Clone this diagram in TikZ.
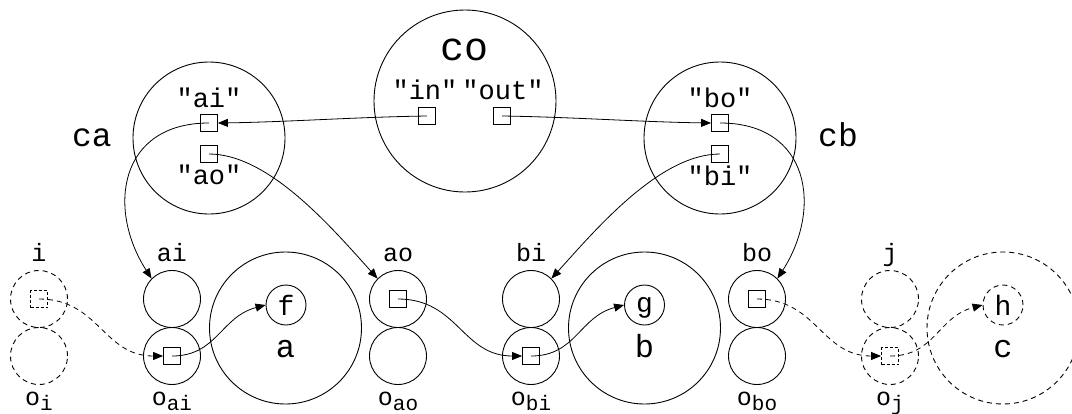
\documentclass[tikz,border=0pt]{standalone}
\usepackage{fontspec}
\setmonofont{Liberation Mono}
\usetikzlibrary{arrows.meta}

\newcommand\sub[1]{\raisebox{-5pt}{\fontsize{21}{21}\selectfont #1}}
\newcommand\fsz[1]{\fontsize{#1}{#1}\selectfont\ttfamily}

\tikzset{
  ring/.style={circle,draw,line width=0.9pt,inner sep=0pt,minimum size=57pt},
  ghost/.style={ring,dash pattern=on 5pt off 4pt},
  port/.style={draw,line width=0.8pt,inner sep=0pt,minimum size=17pt},
  gport/.style={port,dash pattern=on 3pt off 2pt},
  lbl/.style={inner sep=0pt,anchor=base,font=\fsz{25}},
  wire/.style={line width=0.8pt,-{Triangle[length=10pt,width=8pt]}},
  gwire/.style={wire,dash pattern=on 5pt off 4pt}
}

\begin{document}
\begin{tikzpicture}[x=1pt,y=-1pt]
  \useasboundingbox (0,0) rectangle (1072,413);
  \clip (0,0) rectangle (1072,413);

  % grupos de arriba
  \node[ring,minimum size=152pt] (ca) at (209,138) {};
  \node[ring,minimum size=152pt] (cb) at (720,138) {};
  \node[ring,minimum size=182pt] (co) at (465,101) {};
  \node[lbl,font=\fsz{33}] (tca) at (92,146) {ca};
  \node[lbl,font=\fsz{33}] (tcb) at (838,146) {cb};
  \node[lbl,font=\fsz{40}] (tco) at (465,60) {co};
  \node[lbl,font=\fsz{27}] (tcaai) at (209,107) {"ai"};
  \node[lbl,font=\fsz{27}] (tcaao) at (209,184) {"ao"};
  \node[lbl,font=\fsz{27}] (tcbbo) at (720,107) {"bo"};
  \node[lbl,font=\fsz{27}] (tcbbi) at (720,185) {"bi"};
  \node[lbl,font=\fsz{27}] (tcoin) at (425,99) {"in"};
  \node[lbl,font=\fsz{27}] (tcoout) at (503,99) {"out"};
  \node[port] (caai) at (209,123) {};
  \node[port] (caao) at (209,154) {};
  \node[port] (cbbo) at (720,123) {};
  \node[port] (cbbi) at (720,154) {};
  \node[port] (coin) at (427,116) {};
  \node[port] (coout) at (502,116) {};

  % columnas de abajo
  \foreach \n/\x/\st in {i/39/ghost,ai/172/ring,ao/398/ring,bi/531/ring,bo/757/ring,j/890/ghost}{
    \node[\st] (\n) at (\x,299) {};
    \node[\st] (o\n) at (\x,356) {};
    \node[lbl] (t\n) at (\x,261) {\n};
    \node[lbl] (to\n) at (\x,405) {o\sub{\n}};
  }

  % cajas grandes
  \node[ring,minimum size=152pt] (a) at (285.5,328) {};
  \node[ring,minimum size=152pt] (b) at (644.5,328) {};
  \node[ghost,minimum size=152pt] (c) at (1003,328) {};
  \node[ring,minimum size=40pt] (f) at (286,305) {};
  \node[ring,minimum size=40pt] (g) at (644.5,305) {};
  \node[ghost,minimum size=40pt] (h) at (1003,305) {};
  \node[lbl,font=\fsz{32}] (ta) at (285.5,357) {a};
  \node[lbl,font=\fsz{32}] (tb) at (644.5,357) {b};
  \node[lbl,font=\fsz{32}] (tc) at (1003,357) {c};
  \node[lbl,font=\fsz{28}] (tf) at (286,315) {f};
  \node[lbl,font=\fsz{28}] (tg) at (644.5,312) {g};
  \node[lbl,font=\fsz{28}] (th) at (1003,315) {h};

  % puertos
  \node[gport] (pi) at (i) {};
  \node[port] (poai) at (oai) {};
  \node[port] (pao) at (ao) {};
  \node[port] (pobi) at (obi) {};
  \node[port] (pbo) at (bo) {};
  \node[gport] (poj) at (oj) {};

  % conexiones
  \draw[wire] (coin.center) .. controls +(-70,1) and +(70,-1) .. (caai.east);
  \draw[wire] (coout.center) .. controls +(70,1) and +(-70,-1) .. (cbbo.west);
  \draw[wire] (caai.center) .. controls +(-90,0) and +(-45,-70) .. (ai.135);
  \draw[wire] (caao.center) .. controls +(60,0) and +(-45,-50) .. (ao.135);
  \draw[wire] (cbbo.center) .. controls +(90,0) and +(45,-70) .. (bo.45);
  \draw[wire] (cbbi.center) .. controls +(-60,0) and +(45,-50) .. (bi.45);

  \draw[gwire] (pi.center) .. controls +(60,0) and +(-60,0) .. (poai.west);
  \draw[wire] (poai.center) .. controls +(45,0) and +(-45,12) .. (f.west);
  \draw[wire] (pao.center) .. controls +(60,0) and +(-60,0) .. (pobi.west);
  \draw[wire] (pobi.center) .. controls +(45,0) and +(-45,12) .. (g.west);
  \draw[gwire] (pbo.center) .. controls +(60,0) and +(-60,0) .. (poj.west);
  \draw[gwire] (poj.center) .. controls +(45,0) and +(-45,12) .. (h.west);
\end{tikzpicture}
\end{document}
